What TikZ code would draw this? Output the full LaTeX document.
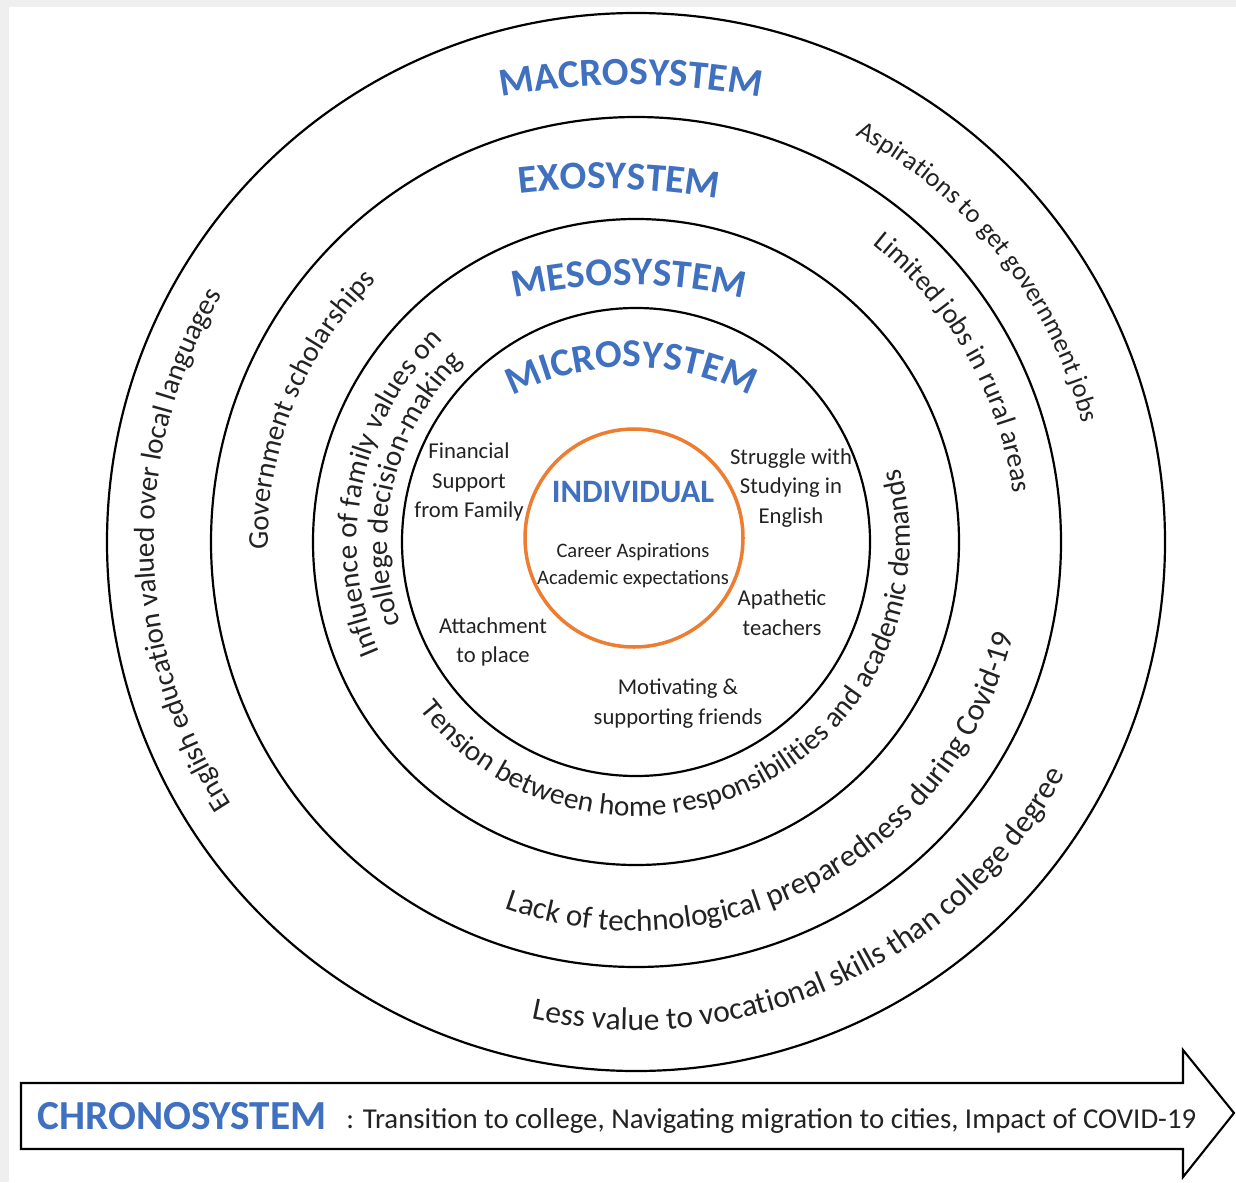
\documentclass[tikz,border=0pt]{standalone}
\usepackage{fontspec}
\setmainfont{Carlito}
\usetikzlibrary{decorations.text}
\definecolor{sysblue}{HTML}{4070C0}
\definecolor{indorange}{HTML}{ED7D31}
\definecolor{txt}{HTML}{222222}
\definecolor{edgegray}{HTML}{EFEFEF}
\newcommand\titlefont{\fontsize{22.5}{26}\selectfont\bfseries}
\begin{document}
\begin{tikzpicture}[x=0.02cm, y=0.02cm,
  ringline/.style={draw=black, line width=1.25pt},
  microlabel/.style={text=txt, align=center, inner sep=0pt, font=\fontsize{12.9}{17}\selectfont},
  ringtext/.style 2 args={decorate, decoration={text along path, text align=center, text color=txt, text={|\fontsize{#1}{20}\selectfont|#2}}},
  titletext/.style={decorate, decoration={text along path, text align=center, text color=sysblue, text={|\titlefont|#1}}}]
\useasboundingbox (0,0) rectangle (1236,-1182);
\fill[edgegray] (0,0) rectangle (1236,-1182);
\fill[white] (9,-7) rectangle (1236,-1182);
% rings
\coordinate (c) at (636,-542);
\draw[ringline] (c) circle[radius=529];
\draw[ringline] (c) circle[radius=425];
\draw[ringline] (c) circle[radius=323];
\draw[ringline] (c) circle[radius=234];
\draw[draw=indorange, line width=2pt] (634,-538) circle[radius=109];
% title arcs
\coordinate (tc1) at (631,-785);
\path (tc1) ++(105:700) coordinate (ts1);
\path[titletext={MACROSYSTEM}] (ts1) arc[start angle=105, end angle=75, radius=700];
\coordinate (tc2) at (600.7,-888.8);
\path (tc2) ++(103.5:700) coordinate (ts2);
\path[titletext={EXOSYSTEM}] (ts2) arc[start angle=103.5, end angle=73.5, radius=700];
\coordinate (tc3) at (629,-785);
\path (tc3) ++(110:500) coordinate (ts3);
\path[titletext={MESOSYSTEM}] (ts3) arc[start angle=110, end angle=70, radius=500];
\coordinate (tc4) at (631,-627);
\path (tc4) ++(125:260) coordinate (ts4);
\path[titletext={MICROSYSTEM}] (ts4) arc[start angle=125, end angle=55, radius=260];
% ring labels (left and right: reading along the ring, bottom: upright)
\path (c) ++(236:482) coordinate (sEng);
\path[ringtext={16.5}{English education valued over local languages}] (sEng) arc[start angle=236, end angle=126.2, radius=482];
\path (c) ++(200:368) coordinate (sGov);
\path[ringtext={16.4}{Government scholarships}] (sGov) arc[start angle=200, end angle=116, radius=368];
\path (c) ++(220:279) coordinate (sInfA);
\path[ringtext={16.6}{Influence of family values on}] (sInfA) arc[start angle=220, end angle=117, radius=279];
\path (c) ++(218:249) coordinate (sInfB);
\path[ringtext={16.6}{college decision-making}] (sInfB) arc[start angle=218, end angle=114.8, radius=249];
\path (c) ++(82:462) coordinate (sAsp);
\path[ringtext={15}{Aspirations to get government jobs}] (sAsp) arc[start angle=82, end angle=-5.4, radius=462];
\path (c) ++(73:380) coordinate (sLim);
\path[ringtext={15.9}{Limited jobs in rural areas}] (sLim) arc[start angle=73, end angle=-14, radius=380];
\path (c) ++(208:274) coordinate (sTen);
\path[ringtext={16.7}{Tension between home responsibilities and academic demands}] (sTen) arc[start angle=208, end angle=385.2, radius=274];
\path (c) ++(238:389) coordinate (sLack);
\path[ringtext={17.7}{Lack of technological preparedness during Covid-19}] (sLack) arc[start angle=238, end angle=358.4, radius=389];
\path (c) ++(246:488) coordinate (sLess);
\path[ringtext={17.9}{Less value to vocational skills than college degree}] (sLess) arc[start angle=246, end angle=343.2, radius=488];
% individual
\node[text=sysblue, font=\fontsize{18.6}{22}\selectfont\bfseries, inner sep=0pt] (indiv) at (633,-492) {INDIVIDUAL};
\node[microlabel, font=\fontsize{11.7}{15.4}\selectfont] (career) at (633,-566) {Career Aspirations\\Academic expectations};
% microsystem labels
\node[microlabel] (finance) at (469,-482) {Financial\\Support\\from Family};
\node[microlabel] (struggle) at (791,-488) {Struggle with\\Studying in\\English};
\node[microlabel] (apathetic) at (782,-613) {Apathetic\\teachers};
\node[microlabel] (attach) at (493,-642) {Attachment\\to place};
\node[microlabel] (friends) at (678,-704) {Motivating \&\\supporting friends};
% chronosystem arrow
\draw[line width=1.2pt, fill=white] (21,-1083) -- (1183,-1083) -- (1183,-1050) -- (1234,-1113) -- (1183,-1177) -- (1183,-1149) -- (21,-1149) -- cycle;
\node[anchor=base west, inner sep=0pt, text=sysblue, font=\fontsize{23.5}{28}\selectfont\bfseries] (chrono) at (37,-1129) {CHRONOSYSTEM};
\node[anchor=base west, inner sep=0pt, text=txt, font=\fontsize{16.4}{20}\selectfont] (chronotext) at (346,-1128) {: Transition to college, Navigating migration to cities, Impact of COVID-19};
\end{tikzpicture}
\end{document}
